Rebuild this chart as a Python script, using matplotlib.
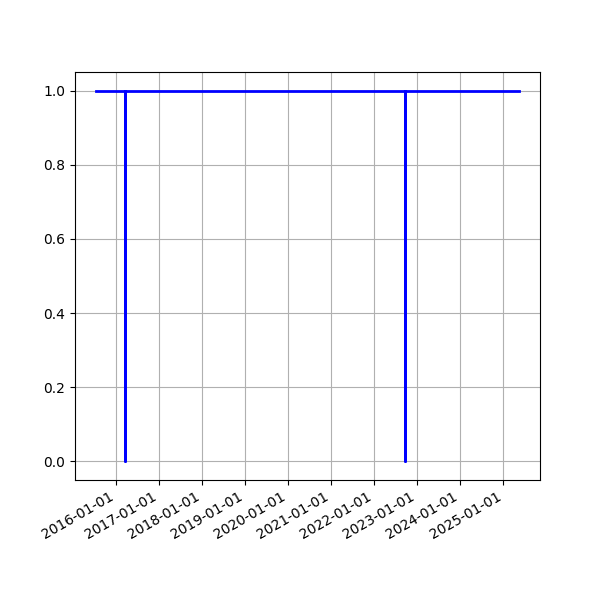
import matplotlib
matplotlib.use('Agg')
import matplotlib.pyplot as plt
import matplotlib.dates as mdates
import numpy as np
import pandas as pd

dates = pd.to_datetime(['2015-07-20', '2016-03-22', '2016-03-22', '2016-03-22',
                        '2022-09-23', '2022-09-23', '2022-09-23', '2025-05-12'])
status = [1, 1, 0, 1, 1, 0, 1, 1]

fig, ax = plt.subplots(figsize=(6, 6), dpi=100)
ax.plot(dates, status, color='blue', linewidth=2)
ax.xaxis.set_major_locator(mdates.YearLocator())
ax.xaxis.set_major_formatter(mdates.DateFormatter('%Y-%m-%d'))
ax.grid(True)
fig.autofmt_xdate()
fig.savefig('out.png')
